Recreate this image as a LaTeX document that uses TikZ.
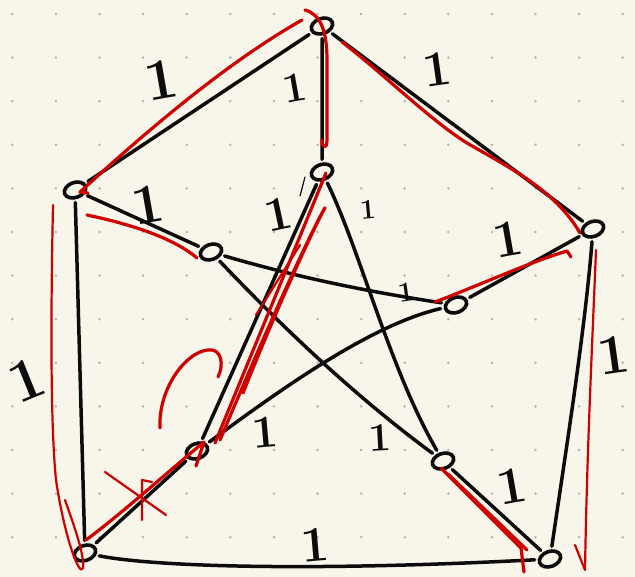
\documentclass[tikz,border=0pt]{standalone}
\usetikzlibrary{shapes.geometric}
\definecolor{paper}{RGB}{248,246,235}
\definecolor{dotc}{RGB}{180,180,172}
\definecolor{ink}{RGB}{12,12,12}
\definecolor{pen}{RGB}{206,0,0}
\begin{document}
\begin{tikzpicture}[x=1pt,y=-1pt,
 vtx/.style={draw=ink, ellipse, line width=3.6pt, minimum width=22pt, minimum height=15pt, inner sep=0pt, rotate=20},
 edge/.style={draw=ink, line width=3.5pt, line cap=round, shorten <=3pt, shorten >=3pt},
 redline/.style={draw=pen, line width=3.2pt, line cap=round, line join=round},
 thinred/.style={draw=pen, line width=2.2pt, line cap=round, line join=round},
 lbl/.style={text=ink, inner sep=0pt, font=\bfseries\fontsize{#1}{#1}\selectfont}]
\useasboundingbox (0,0) rectangle (635,577);
\fill[paper] (0,0) rectangle (635,577);
\foreach \i in {0,...,14}
  \foreach \j in {0,...,12}
    \fill[dotc] (12.3+43.6*\i, 14+43.6*\j) circle[radius=1.4pt];

% vertices
\node[vtx] (o1) at (322,26) {};
\node[vtx] (o2) at (75,190) {};
\node[vtx] (o3) at (593,229) {};
\node[vtx] (o4) at (85,553) {};
\node[vtx] (o5) at (550,559) {};
\node[vtx] (i1) at (322,172) {};
\node[vtx] (i2) at (211,252) {};
\node[vtx] (i3) at (456,305) {};
\node[vtx] (i4) at (197,451) {};
\node[vtx] (i5) at (443,461) {};

% black edges
\draw[edge] (o1) -- (o2);
\draw[edge] (o1) -- (o3);
\draw[edge] (o1) -- (i1);
\draw[edge] (o2) -- (o4);
\draw[edge] (o2) -- (i2);
\draw[edge] (o3) .. controls (585,330) and (566,450) .. (o5);
\draw[edge] (o3) -- (i3);
\draw[edge] (o4) .. controls (150,566) and (300,572) .. (o5);
\draw[edge] (o4) -- (i4);
\draw[edge] (o5) -- (i5);
\draw[edge] (i1) -- (i4);
\draw[edge] (i1) .. controls (360,250) and (390,370) .. (i5);
\draw[edge] (i2) .. controls (300,278) and (370,292) .. (i3);
\draw[edge] (i2) .. controls (290,335) and (360,400) .. (i5);
\draw[edge] (i3) .. controls (370,325) and (280,390) .. (i4);
\draw[ink, line width=1.2pt, line cap=round] (305,177) -- (300,196);

% red annotations
\draw[thinred] (53,205) .. controls (51,300) and (50,420) .. (56,480)
   .. controls (65,540) and (80,578) .. (83,568) .. controls (85,555) and (72,520) .. (65,500);
\draw[redline] (88,193) -- (80,192) .. controls (150,128) and (228,62) .. (302,20);
\draw[redline] (305,10) .. controls (320,14) and (327,30) .. (327,60) -- (327,140)
   .. controls (327,150) and (322,148) .. (322,140);
\draw[redline] (342,42) .. controls (385,75) and (430,120) .. (467,143)
   .. controls (510,168) and (555,190) .. (580,233);
\draw[redline] (87,215) .. controls (120,222) and (170,235) .. (197,258);
\draw[redline] (435,302) .. controls (480,285) and (530,262) .. (567,251) -- (571,257);
\draw[thinred] (596,250) .. controls (592,350) and (587,450) .. (585,570) -- (575,545);
\draw[redline] (441,468) -- (521,548) -- (524,572);
\draw[redline] (448,474) -- (527,550);
\draw[redline] (86,540) .. controls (120,515) and (170,470) .. (204,442) -- (196,466);
\draw[thinred] (105,472) -- (166,515);
\draw[thinred] (142,520) -- (142,480) -- (152,482);
\draw[redline] (326,173) -- (215,443);
\draw[redline] (243,393) .. controls (280,300) and (320,215) .. (325,208)
   .. controls (326,205) and (300,250) .. (220,440);
\draw[thinred] (300,245) -- (256,315);
\draw[redline] (160,428) .. controls (158,390) and (185,352) .. (208,350)
   .. controls (222,348) and (224,365) .. (218,377);

% labels
\node[lbl=58, rotate=10] (l1) at (161,80) {1};
\node[lbl=42, rotate=10] (l2) at (295,88) {1};
\node[lbl=50, rotate=8] (l3) at (437,69) {1};
\node[lbl=56, rotate=10] (l4) at (148,205) {1};
\node[lbl=48, rotate=12] (l5) at (278,214) {1};
\node[lbl=28, rotate=5] (l6) at (368,210) {1};
\node[lbl=28, rotate=8] (l7) at (406,292) {1};
\node[lbl=52, rotate=10] (l8) at (508,239) {1};
\node[lbl=60, rotate=22] (l9) at (27,380) {1};
\node[lbl=56, rotate=8] (l10) at (614,355) {1};
\node[lbl=46, rotate=5] (l11) at (265,432) {1};
\node[lbl=40, rotate=3] (l12) at (380,438) {1};
\node[lbl=52, rotate=10] (l13) at (512,486) {1};
\node[lbl=50, rotate=5] (l14) at (315,545) {1};
\end{tikzpicture}
\end{document}
